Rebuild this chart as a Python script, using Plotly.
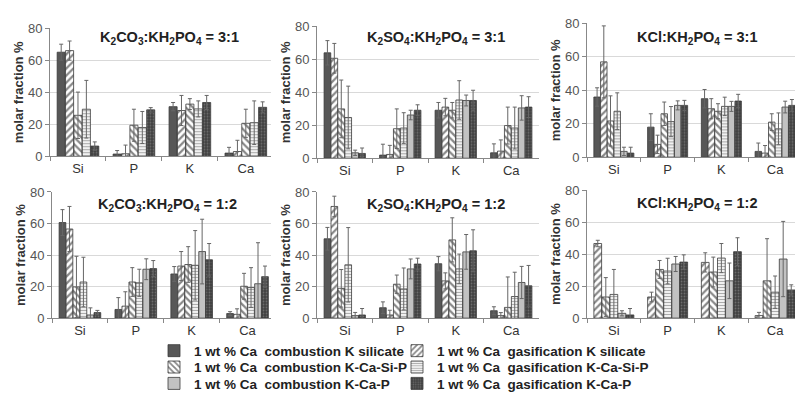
import plotly.graph_objects as go

categories = ["Si", "P", "K", "Ca"]
tick_values = [0, 20, 40, 60, 80]

series_names = [
    "1 wt % Ca\u00a0 combustion K silicate",
    "1 wt % Ca\u00a0 gasification K silicate",
    "1 wt % Ca\u00a0 combustion K-Ca-Si-P",
    "1 wt % Ca\u00a0 gasification K-Ca-Si-P",
    "1 wt % Ca\u00a0 combustion K-Ca-P",
    "1 wt % Ca\u00a0 gasification K-Ca-P",
]

panel_titles = [
    "K<sub>2</sub>CO<sub>3</sub>:KH<sub>2</sub>PO<sub>4</sub> = 3:1",
    "K<sub>2</sub>SO<sub>4</sub>:KH<sub>2</sub>PO<sub>4</sub> = 3:1",
    "KCl:KH<sub>2</sub>PO<sub>4</sub> = 3:1",
    "K<sub>2</sub>CO<sub>3</sub>:KH<sub>2</sub>PO<sub>4</sub> = 1:2",
    "K<sub>2</sub>SO<sub>4</sub>:KH<sub>2</sub>PO<sub>4</sub> = 1:2",
    "KCl:KH<sub>2</sub>PO<sub>4</sub> = 1:2",
]

# rows: series 1..6 ; columns: Si, P, K, Ca ; None = series not present
k2co3_31_mean = [[65, 1.4, 31, 2], [66, 1.6, 28.6, 3], [25.6, 19.4, 32.6, 20.6],
                 [29.4, 18, 29.6, 21], None, [6.4, 29, 33.6, 30.6]]
k2co3_31_err = [[5, 2.2, 2.6, 3.6], [6, 5.4, 9.4, 7], [14.5, 10, 3.4, 8.8],
                [18, 10, 5, 13.6], None, [2.6, 1.4, 4.4, 3.4]]

k2so4_31_mean = [[63.9, 1.9, 29.1, 3.3], [60.6, 2.3, 31, 4.3], [29.9, 17.9, 29.1, 19.8],
                 [24.7, 18.3, 35.3, 18.3], [3.3, 26.2, 35, 30.5], [2.9, 29.1, 35, 31]]
k2so4_31_err = [[7.4, 6.6, 4.7, 5.4], [9, 5.5, 5.3, 6.8], [17.5, 12, 4.7, 11.2],
                [19, 9.3, 11.7, 12.7], [1.6, 2.9, 3.3, 7.4], [3.3, 3.3, 6.2, 6.3]]

kcl_31_mean = [[36, 18, 35, 3.5], [57, 7.7, 29, 2.5], [21.7, 26, 27.5, 21],
               [27.5, 21.3, 30.4, 17], [3.5, 31, 30.4, 30], [2.5, 31, 33.6, 31]]
kcl_31_err = [[5.5, 8, 5.5, 5], [21.5, 5.5, 6, 4.5], [15, 7, 4.5, 5],
              [11, 9, 5.5, 9.5], [2.5, 2.7, 3, 3.5], [3.5, 3, 4, 3.5]]

k2co3_12_mean = [[60.6, 5.5, 28, 2.9], [56.5, 7.6, 33, 2.4], [19.8, 22.9, 34, 20.2],
                 [22.9, 22.4, 33.5, 19.4], [2, 31, 42.2, 21.8], [3.5, 31.4, 37, 26.3]]
k2co3_12_err = [[8.2, 7.5, 4.7, 1.2], [14.3, 9.1, 9.2, 3.5], [19.4, 9.1, 11.3, 8.2],
                [15.7, 8.6, 22, 12.6], [4.5, 6.6, 20.5, 26], [1.4, 5.1, 10.3, 6.7]]

k2so4_12_mean = [[50.3, 6.6, 34.5, 4.7], [70.8, 2, 23.6, 1.6], [18.9, 21.5, 49.6, 6.8],
                 [33.8, 18.5, 31.2, 13.7], [1.6, 31.2, 42, 22.6], [2, 34.3, 42.7, 20.5]]
k2so4_12_err = [[7.2, 3.7, 4.5, 2.5], [6.5, 3, 5.1, 1.9], [11.9, 5.8, 14, 19.3],
                [23.6, 13.3, 9.4, 15.4], [2, 6.3, 11, 10.2], [4.1, 3.7, 13.3, 12.9]]

kcl_12_mean = [None, [46.6, 13.2, 34.8, 1.6], [13.2, 30.4, 28.8, 23.3],
               [14.8, 29.4, 37.5, 16.2], [3, 33.8, 23.3, 36.9], [2, 35, 41.5, 17.6]]
kcl_12_err = [None, [2, 3, 6, 2], [12.1, 5.6, 9.3, 26.3],
              [15.6, 8, 9.1, 10.1], [1.6, 4.7, 11.1, 23.5], [4, 4.5, 8.7, 3.2]]

panel_means = [k2co3_31_mean, k2so4_31_mean, kcl_31_mean, k2co3_12_mean, k2so4_12_mean, kcl_12_mean]
panel_errs = [k2co3_31_err, k2so4_31_err, kcl_31_err, k2co3_12_err, k2so4_12_err, kcl_12_err]

# ---- geometry (page body margin removed, figure fills the window) ----
W, H = 795, 408
FONT = "Liberation Sans, Arial, sans-serif"


def fx(x):
    return x / W


def fy(y):
    return 1 - y / H


styles = [
    dict(color="#575757", pattern=dict(shape="")),
    dict(color="white", pattern=dict(shape="/", fgcolor="#111", bgcolor="white", size=5, solidity=0.45)),
    dict(color="white", pattern=dict(shape="\\", fgcolor="#111", bgcolor="white", size=5, solidity=0.45)),
    dict(color="white", pattern=dict(shape="-", fgcolor="#555", bgcolor="white", size=3, solidity=0.45)),
    dict(color="#c2c2c2", pattern=dict(shape="")),
    dict(color="#4a4a4a", pattern=dict(shape=".", fgcolor="#9a9a9a", bgcolor="#404040", size=3, solidity=0.3)),
]
legend_ids = ["legend", "legend2", "legend3", "legend4", "legend5", "legend6"]
# legend text start x / row centre y in page pixels
legend_px = [(194, 357), (437, 357), (194, 374), (437, 374), (194, 391), (437, 391)]

# panel pixel geometry: left, right, y of 80, y of 0, x range end
panel_px = [
    (50, 271, 22, 155, 3.45),
    (317, 539, 20, 157, 3.5),
    (587, 795, 17, 156, 3.37),
    (52, 271, 192, 323, 3.42),
    (317, 539, 192, 323, 3.5),
    (587, 795, 190, 323, 3.37),
]
title_px = [(169, 32), (436, 32), (697, 32), (167, 206), (436, 206), (697, 205)]

fig = go.Figure()
shown = set()
for p in range(6):
    ax = "" if p == 0 else str(p + 1)
    for s in range(6):
        m = panel_means[p][s]
        if m is None:
            continue
        e = panel_errs[p][s]
        st = styles[s]
        fig.add_trace(go.Bar(
            x=categories, y=m, name=series_names[s],
            xaxis="x" + ax, yaxis="y" + ax,
            legend=legend_ids[s], legendgroup=str(s),
            showlegend=(s not in shown),
            marker=dict(color=st["color"], pattern=st["pattern"],
                        line=dict(color="#3a3a3a", width=0.8)),
            error_y=dict(type="data", array=e, visible=True, color="#666666",
                         thickness=1, width=2),
        ))
        shown.add(s)

layout = dict(
    width=W, height=H, margin=dict(l=0, r=0, t=0, b=0),
    paper_bgcolor="white", plot_bgcolor="white",
    barmode="group", bargap=0.25, bargroupgap=0.04,
    font=dict(family=FONT, size=13, color="#333"),
    annotations=[],
)
for s, lid in enumerate(legend_ids):
    tx, ty = legend_px[s]
    layout[lid] = dict(
        x=fx(tx - 40), y=fy(ty), xanchor="left", yanchor="middle",
        font=dict(family=FONT, size=13.5, color="#222", weight="bold"),
        bgcolor="rgba(0,0,0,0)", tracegroupgap=0,
    )

for p in range(6):
    l, r, t, b, xmax = panel_px[p]
    ax = "" if p == 0 else str(p + 1)
    layout["xaxis" + ax] = dict(
        domain=[fx(l), min(fx(r), 1.0)], range=[-0.5, xmax], anchor="y" + ax,
        showline=True, linecolor="#888", linewidth=1,
        ticks="outside", tickson="boundaries", ticklen=4, tickcolor="#888",
        showgrid=False, tickfont=dict(size=13, color="#333"), fixedrange=True,
    )
    layout["yaxis" + ax] = dict(
        domain=[fy(b), fy(t)], range=[0, 80], anchor="x" + ax,
        tickvals=tick_values, showline=True, linecolor="#888", linewidth=1,
        ticks="outside", ticklen=4, tickcolor="#888",
        showgrid=True, gridcolor="#d9d9d9", gridwidth=1, zeroline=False,
        tickfont=dict(size=13, color="#555"), fixedrange=True,
        title=dict(text="molar fraction %", standoff=1,
                   font=dict(size=13, color="#333", weight="bold")),
    )
    cx, cy = title_px[p]
    layout["annotations"].append(dict(
        text=panel_titles[p], x=fx(cx), y=fy(cy), xref="paper", yref="paper",
        showarrow=False, xanchor="center", yanchor="middle",
        font=dict(family=FONT, size=14.5, color="#222", weight="bold"),
    ))

fig.update_layout(**layout)
fig.write_html("out.html", config={"displayModeBar": False},
               post_script="document.body.style.margin='0px';")
